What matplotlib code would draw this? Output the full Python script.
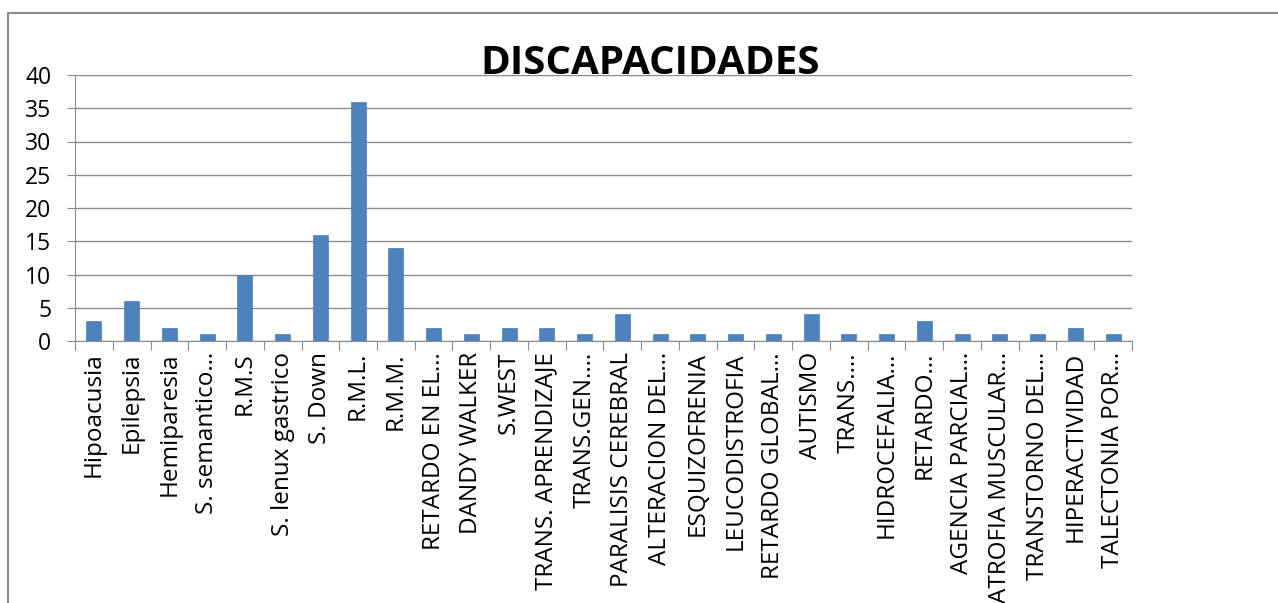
import matplotlib
matplotlib.use("Agg")
import matplotlib.pyplot as plt
from matplotlib.lines import Line2D
import numpy as np

# chart data
categorias = ["Hipoacusia", "Epilepsia", "Hemiparesia", "S. semantico…", "R.M.S",
              "S. lenux gastrico", "S. Down", "R.M.L.", "R.M.M.", "RETARDO EN EL…",
              "DANDY WALKER", "S.WEST", "TRANS. APRENDIZAJE", "TRANS.GEN.…",
              "PARALISIS CEREBRAL", "ALTERACION DEL…", "ESQUIZOFRENIA", "LEUCODISTROFIA",
              "RETARDO GLOBAL…", "AUTISMO", "TRANS.…", "HIDROCEFALIA…", "RETARDO…",
              "AGENCIA PARCIAL…", "ATROFIA MUSCULAR…", "TRANSTORNO DEL…",
              "HIPERACTIVIDAD", "TALECTONIA POR…"]
valores = [3, 6, 2, 1, 10, 1, 16, 36, 14, 2, 1, 2, 2, 1, 4, 1, 1, 1, 1, 4, 1, 1, 3, 1, 1, 1, 2, 1]
yticks = [0, 5, 10, 15, 20, 25, 30, 35, 40]

plt.rcParams['font.family'] = ['Open Sans', 'DejaVu Sans']

fig = plt.figure(figsize=(12.78, 6.03), dpi=100)
ax = fig.add_axes([75 / 1278, 1 - 341 / 603, (1132 - 75) / 1278, (341 - 75) / 603])

x = np.arange(len(categorias))
ax.bar(x, valores, width=0.4, color="#4F81BD", edgecolor="#4A7EBB", linewidth=0.5, zorder=3)

ax.set_xlim(-0.5, len(categorias) - 0.5)
ax.set_ylim(0, 40)
ax.set_yticks(yticks)
ax.set_yticklabels([str(v) for v in yticks], fontsize=16.5)
ax.grid(axis="y", color="#8C8C8C", linewidth=1.0, zorder=0)

# category ticks at boundaries, labels in the middle
ax.set_xticks(np.arange(len(categorias) + 1) - 0.5)
ax.set_xticklabels([])
ax.set_xticks(x, minor=True)
ax.set_xticklabels(categorias, minor=True, rotation=90, fontsize=17.5, va="top", ha="center")
ax.tick_params(axis="x", which="major", length=6.5, color="#8C8C8C", direction="out")
ax.tick_params(axis="x", which="minor", length=0, pad=8)
ax.tick_params(axis="y", length=6, color="#8C8C8C", pad=11)

for s in ["top", "right"]:
    ax.spines[s].set_visible(False)
ax.spines["left"].set_color("#8C8C8C")
ax.spines["bottom"].set_color("#8C8C8C")

fig.text(650 / 1278, 1 - 63 / 603, "DISCAPACIDADES", fontsize=29, fontweight="bold",
         ha="center", va="center")

# chart area frame (left and top edges)
fig.add_artist(Line2D([8 / 1278, 8 / 1278], [0, 1 - 13 / 603], transform=fig.transFigure,
                      color="#8C8C8C", linewidth=1.5))
fig.add_artist(Line2D([8 / 1278, 1], [1 - 13 / 603, 1 - 13 / 603], transform=fig.transFigure,
                      color="#8C8C8C", linewidth=1.5))

fig.savefig("out.png", dpi=100)
